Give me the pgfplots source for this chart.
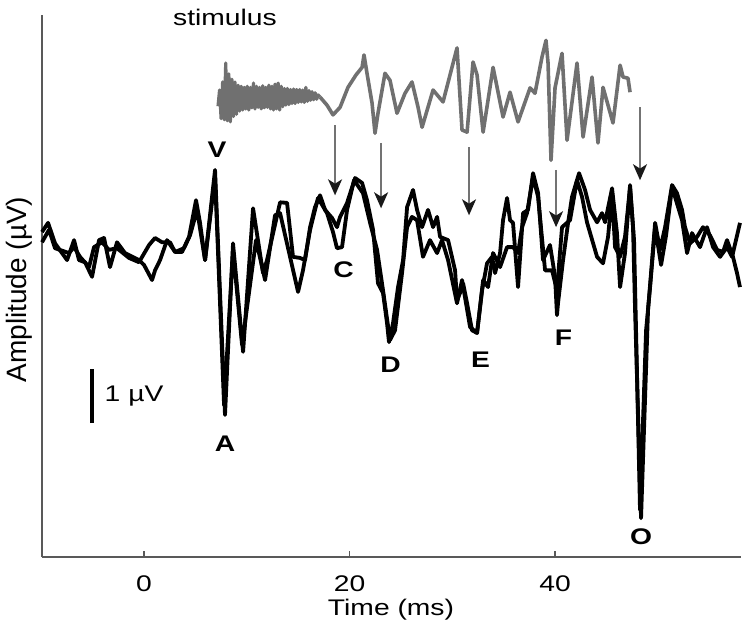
\documentclass[border=0pt]{standalone}
\usepackage{fontspec}
\setmainfont{Liberation Sans}
\newfontfamily\wfont{Liberation Sans}[FakeStretch=1.25]
\usepackage{pgfplots}
\pgfplotsset{compat=1.18}
\usetikzlibrary{arrows.meta}
\tikzset{stimarr/.style={draw=black!55, line width=0.8pt,
  -{Stealth[length=8pt,width=7pt,inset=2.2pt,color=black!90]}}}

\begin{document}
\begin{tikzpicture}
\path[use as bounding box] (-21pt,-38.5pt) rectangle (353pt,278.5pt);
\begin{axis}[
  scale only axis,
  width=349.5pt, height=271pt,
  xmin=-9.93, xmax=58.10,
  ymin=0, ymax=10.04,
  axis x line=bottom, axis y line=left,
  axis line style={-, draw=black!65, line width=0.6pt},
  xtick={0,20,40}, ytick=\empty,
  tick align=inside, major tick length=3pt,
  tick style={black!65, line width=0.6pt},
  xticklabel style={anchor=base, yshift=-17pt, font=\wfont\fontsize{11.3}{13}\selectfont},
  /pgf/number format/assume math mode=true,
  clip=false,
  every axis plot/.append style={line join=round},
]
% --- stimulus waveform (grey) ---
\addplot[black!56, line width=1.6pt] coordinates {
  (7.20,8.35) (7.35,8.65) (7.50,8.12) (7.65,8.80) (7.80,8.10) (7.95,9.15)
  (8.10,8.08) (8.25,8.95) (8.40,8.06) (8.55,8.85) (8.70,8.16) (8.85,8.80)
  (9.00,8.20) (9.15,8.74) (9.30,8.26) (9.45,8.72) (9.60,8.28) (9.75,8.70)
  (9.90,8.30) (10.05,8.72) (10.20,8.28) (10.35,8.70) (10.50,8.32) (10.65,8.78)
  (10.80,8.30) (10.95,8.72) (11.10,8.33) (11.25,8.70) (11.40,8.30) (11.55,8.73)
  (11.70,8.32) (11.85,8.70) (12.00,8.33) (12.15,8.74) (12.30,8.30) (12.45,8.72)
  (12.60,8.28) (12.75,8.76) (12.90,8.30) (13.05,8.78) (13.20,8.28) (13.35,8.72)
  (13.50,8.34) (13.65,8.68) (13.80,8.37) (13.95,8.68) (14.10,8.38) (14.25,8.66)
  (14.40,8.40) (14.55,8.67) (14.70,8.40) (14.85,8.66) (15.00,8.42) (15.15,8.66)
  (15.30,8.43) (15.45,8.65) (15.60,8.42) (15.75,8.70) (15.90,8.44) (16.05,8.64)
  (16.20,8.46) (16.35,8.62) (16.50,8.47) (16.65,8.60) (16.80,8.48) (16.95,8.56)
  (17.13,8.52)
};
\addplot[black!56, line width=1.8pt] coordinates {
  (17.13,8.52) (17.81,8.37) (18.39,8.19) (19.08,8.33) (19.85,8.70) (20.63,8.93)
  (21.22,9.07) (21.41,9.30) (21.70,8.96) (22.19,8.41) (22.48,7.85) (22.77,8.22)
  (23.45,8.96) (23.94,8.83) (24.62,8.22) (25.40,8.59) (26.08,8.80) (26.67,8.33)
  (27.06,7.96) (28.13,8.65) (29.10,8.43) (30.46,9.43) (30.95,7.91) (31.44,7.87)
  (32.02,9.17) (32.41,8.93) (33.00,7.87) (33.97,9.07) (34.94,8.15) (35.62,8.61)
  (36.40,8.06) (37.57,8.69) (38.05,8.59) (38.73,9.26) (39.12,9.57) (39.32,9.15)
  (39.61,7.35) (40.00,8.69) (40.68,9.33) (41.17,7.72) (42.14,9.15) (42.73,7.78)
  (43.60,8.89) (44.18,7.67) (44.67,8.70) (45.64,8.04) (46.33,9.11) (46.62,8.89)
  (47.10,8.87) (47.30,8.61)
};
% --- response, run 1 ---
\addplot[black, line width=1.9pt] coordinates {
  (-9.93,6.02) (-9.34,6.19) (-8.66,5.81) (-7.49,5.50) (-6.81,5.87) (-6.33,5.50)
  (-5.74,5.46) (-5.06,5.19) (-4.38,5.87) (-3.89,5.91) (-3.31,5.37) (-2.63,5.83)
  (-1.85,5.63) (-0.49,5.50) (0,5.41) (0.78,5.13) (1.07,5.31) (1.56,5.50)
  (2.24,5.87) (3.02,5.65) (3.70,5.65) (4.38,5.93) (5.06,6.61) (5.45,6.19)
  (5.94,5.50) (6.91,7.17) (7.88,2.63) (8.66,5.81) (9.64,3.80) (10.61,6.46)
  (11.58,5.26) (11.97,5.50) (13.24,6.57) (13.92,6.56) (14.50,5.56) (15.18,5.54)
  (15.67,5.50) (16.16,6.11) (16.64,6.48) (17.13,6.70) (17.62,6.43) (18.30,6.28)
  (18.78,6.11) (19.08,6.30) (19.76,6.56) (20.54,7.02) (21.22,6.93) (21.70,6.61)
  (22.29,6.06) (22.77,5.07) (23.26,4.89) (23.65,4.33) (23.84,3.98) (24.23,4.33)
  (24.72,5.00) (25.21,5.50) (25.60,6.48) (26.18,6.80) (26.57,6.43) (27.06,6.11)
  (27.64,6.43) (28.13,6.11) (28.52,6.30) (28.81,5.93) (29.59,5.87) (30.27,5.31)
  (30.46,4.76) (30.75,4.89) (31.05,5.07) (31.44,4.70) (31.92,4.20) (32.41,4.15)
  (32.90,4.94) (33.38,5.44) (33.87,5.56) (34.16,5.26) (34.65,5.63) (34.94,6.24)
  (35.33,6.65) (35.62,6.24) (35.91,6.19) (36.40,5.00) (36.89,6.37) (37.37,6.43)
  (37.86,7.11) (38.35,6.74) (38.83,5.50) (39.51,5.78) (40.00,5.19) (40.19,4.48)
  (40.29,4.70) (40.78,5.50) (41.27,6.19) (41.65,6.67) (42.34,7.11) (42.92,6.80)
  (43.41,6.43) (44.09,6.20) (44.57,6.37) (44.87,6.20) (45.55,6.83) (46.03,6.00)
  (46.33,5.00) (46.81,5.63) (47.30,6.89) (47.59,6.11) (47.79,4.57) (48.37,0.72)
  (49.05,4.57) (49.74,6.19) (50.22,5.69) (50.71,6.11) (51.39,6.89) (51.87,6.74)
  (52.36,6.43) (52.65,6.11) (53.14,5.81) (53.82,5.93) (54.40,6.11) (55.08,5.96)
  (55.77,5.69) (56.35,5.65) (56.74,5.87) (57.32,5.56) (57.71,5.26) (58.00,5.00)
};
% --- response, run 2 ---
\addplot[black, line width=1.9pt] coordinates {
  (-9.93,5.83) (-9.25,6.06) (-8.66,5.72) (-7.30,5.63) (-6.81,5.74) (-6.23,5.56)
  (-5.35,5.37) (-4.87,5.74) (-4.09,5.83) (-3.41,5.69) (-2.63,5.72) (-1.46,5.54)
  (-0.49,5.46) (0.49,5.78) (1.07,5.91) (1.75,5.83) (2.53,5.83) (3.02,5.65)
  (3.89,5.72) (4.48,5.96) (5.16,6.43) (5.94,5.50) (6.91,7.04) (7.79,2.81)
  (8.66,5.69) (9.54,3.93) (10.90,5.87) (11.78,5.13) (12.75,6.33) (13.24,6.37)
  (14.21,5.56) (14.99,4.91) (15.47,5.31) (16.16,6.06) (16.93,6.65) (17.81,6.37)
  (18.39,6.02) (18.78,5.72) (19.27,5.74) (19.76,6.43) (20.44,6.98) (21.31,6.74)
  (22.00,6.19) (22.68,5.69) (23.26,4.94) (23.94,4.02) (24.43,4.20) (25.11,5.26)
  (25.60,6.11) (26.08,6.30) (26.57,6.24) (27.15,5.56) (27.83,5.87) (28.52,5.63)
  (29.00,5.87) (29.59,5.50) (30.46,4.70) (30.95,5.13) (31.73,4.26) (32.41,4.15)
  (33.00,5.13) (33.48,5.00) (33.97,5.63) (34.65,5.37) (35.33,5.74) (35.91,5.74)
  (36.40,5.63) (36.79,6.11) (37.27,6.37) (37.86,7.04) (38.35,6.67) (39.03,5.31)
  (39.71,5.31) (40.19,4.94) (40.68,6.11) (41.46,6.24) (42.14,6.98) (42.63,6.67)
  (43.11,6.20) (44.09,5.56) (44.67,5.44) (45.16,5.93) (45.55,6.74) (45.84,5.74)
  (46.33,5.56) (46.81,5.93) (47.30,6.85) (47.69,5.87) (48.27,0.87) (48.86,4.20)
  (49.25,5.00) (49.74,6.11) (50.32,5.41) (50.81,5.96) (51.39,6.85) (52.36,6.24)
  (52.85,5.63) (53.33,6.00) (54.11,5.74) (54.79,6.11) (55.38,5.74) (56.06,5.56)
  (56.74,5.74) (57.23,5.56) (58.00,6.19)
};
% --- arrows from stimulus features to response peaks ---
\draw[stimarr] (axis cs:18.59,8.00) -- (axis cs:18.59,6.70);
\draw[stimarr] (axis cs:23.07,7.67) -- (axis cs:23.07,6.46);
\draw[stimarr] (axis cs:31.63,7.59) -- (axis cs:31.63,6.33);
\draw[stimarr] (axis cs:40.10,7.17) -- (axis cs:40.10,6.11);
\draw[stimarr] (axis cs:48.27,8.33) -- (axis cs:48.27,6.98);
% --- 1 uV scale bar ---
\draw[black, line width=1.6pt] (axis cs:-5.06,2.48) -- (axis cs:-5.06,3.48);
\node[font=\wfont\fontsize{11.3}{13}\selectfont] at (axis cs:-0.97,2.98) {1 µV};
% --- peak labels ---
\begin{scope}[every node/.style={font=\wfont\fontsize{11.3}{13}\selectfont\bfseries}]
\node at (axis cs:7.10,7.54) {V};
\node at (axis cs:7.88,2.09) {A};
\node at (axis cs:19.42,5.32) {C};
\node at (axis cs:23.99,3.57) {D};
\node at (axis cs:32.75,3.65) {E};
\node at (axis cs:40.83,4.07) {F};
\node at (axis cs:48.37,0.37) {O};
\end{scope}
\node[font=\wfont\fontsize{11.3}{13}\selectfont, anchor=base] at (axis cs:7.88,9.85) {stimulus};
\end{axis}
\node[font=\wfont\fontsize{11.3}{13}\selectfont, anchor=base] at (174.5pt,-29pt) {Time (ms)};
\node[font=\fontsize{14}{16}\selectfont, rotate=90, anchor=base] at (-8pt,133.75pt) {Amplitude (µV)};
\end{tikzpicture}
\end{document}
